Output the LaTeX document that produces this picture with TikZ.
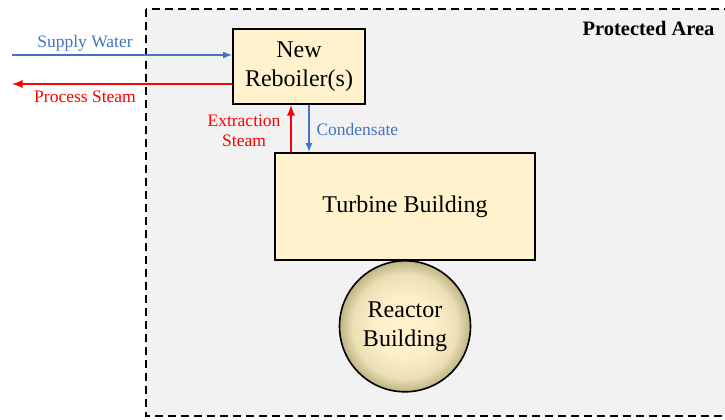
\documentclass[tikz,border=0pt]{standalone}
\usepackage{fontspec}
\setmainfont{Liberation Serif}
\usetikzlibrary{shapes.geometric, arrows, positioning}
\definecolor{boxfill}{RGB}{255,242,204}
\definecolor{areagray}{RGB}{242,242,242}
\definecolor{reactorrim}{RGB}{190,180,130}
\definecolor{flowblue}{RGB}{68,114,196}
\definecolor{flowred}{RGB}{255,0,0}
\pgfdeclareradialshading{reactorshade}{\pgfpoint{0bp}{0bp}}{color(0bp)=(boxfill); color(12bp)=(boxfill!95!reactorrim); color(20bp)=(boxfill!70!reactorrim); color(25bp)=(reactorrim); color(50bp)=(reactorrim)}
\tikzstyle{arrow} = [line width=2pt,->,>=latex]

\begin{document}
\begin{tikzpicture}[x=1pt,y=-1pt,
		main node/.style={rectangle, draw=black, line width=2pt, fill=boxfill, text centered, align=center, font=\fontsize{24}{29}\selectfont},
		reactor/.style={circle, draw=black, line width=1.6pt, shading=reactorshade, minimum size=131pt, align=center, font=\fontsize{24}{29}\selectfont},
		flow label/.style={font=\fontsize{17.5}{20}\selectfont, align=center}]
			
			\useasboundingbox (0,0) rectangle (725,420);
			\clip (0,0) rectangle (725,420);
			
			% protected area
			\draw[fill=areagray, line width=2.6pt, dash pattern=on 8pt off 5pt] (146,9) rectangle (760,416);
			\node[anchor=east, font=\fontsize{20.5}{24}\selectfont\bfseries] (area) at (718,28) {Protected Area};
			
			\node[main node, minimum width=132pt, minimum height=75pt] (reboiler) at (299,66.5) {New\\Reboiler(s)};
			\node[main node, minimum width=260pt, minimum height=107pt] (turbine) at (405,206.5) {Turbine Building};
			\node[reactor, below=-1pt of turbine] (reactor) {Reactor\\Building};
			
			\coordinate (sw) at (12,55);
			\coordinate (ps) at (12,84);
			\coordinate (ex) at (291,0);
			\coordinate (co) at (309,0);
			
			\draw[arrow, flowblue] (sw) -- (reboiler.west |- sw);
			\draw[arrow, flowred, line width=2.6pt] (reboiler.west |- ps) -- (ps);
			\draw[arrow, flowred, line width=2.6pt] (ex |- turbine.north) -- (ex |- reboiler.south);
			\draw[arrow, flowblue] (co |- reboiler.south) -- (co |- turbine.north);
			
			\node[flow label, text=flowblue] (swlabel) at (85,43) {Supply Water};
			\node[flow label, text=flowred] (pslabel) at (85,97) {Process Steam};
			\node[flow label, text=flowred, anchor=east] (exlabel) at (284,131) {Extraction\\Steam};
			\node[flow label, text=flowblue, anchor=west] (colabel) at (313,130) {Condensate};
			
\end{tikzpicture}
\end{document}
